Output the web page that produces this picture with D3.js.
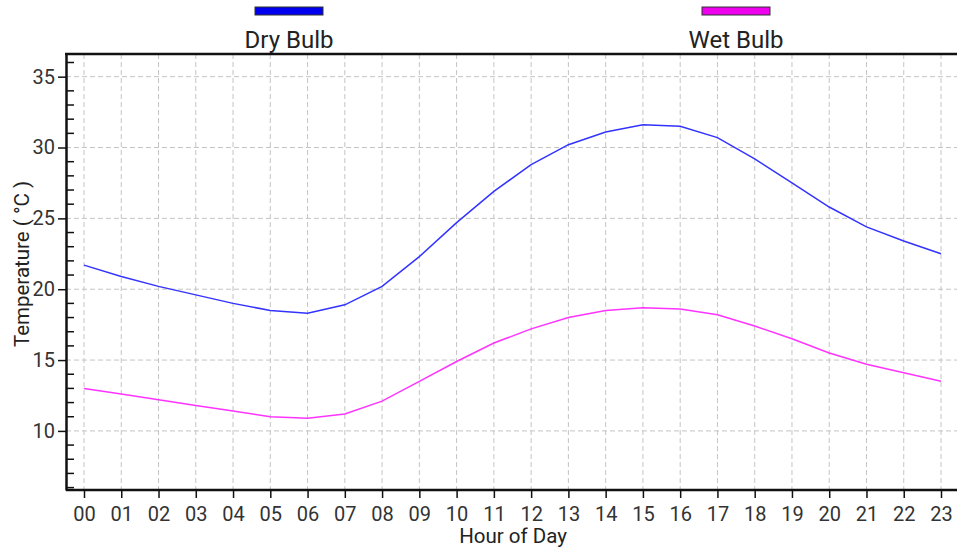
<!DOCTYPE html>
<html><head><meta charset="utf-8">
<script src="https://cdn.jsdelivr.net/npm/d3@7"></script>
<style>body{margin:0;background:#fff;}svg{display:block;font-family:Roboto,"Noto Sans",sans-serif;}</style>
</head><body>
<svg id="c" width="957" height="552"></svg>
<script>
const hours = ["00","01","02","03","04","05","06","07","08","09","10","11","12","13","14","15","16","17","18","19","20","21","22","23"];
const dryBulb = [21.7,20.9,20.2,19.6,19.0,18.5,18.3,18.9,20.2,22.3,24.7,26.9,28.8,30.2,31.1,31.6,31.5,30.7,29.2,27.5,25.8,24.4,23.4,22.5];
const wetBulb = [13.0,12.6,12.2,11.8,11.4,11.0,10.9,11.2,12.1,13.5,14.9,16.2,17.2,18.0,18.5,18.7,18.6,18.2,17.4,16.5,15.5,14.7,14.1,13.5];
const yTicks = [10,15,20,25,30,35];
const seriesNames = ["Dry Bulb","Wet Bulb"];
const lineColors = ["#3333ff","#ff33ff"];
const legendColors = ["#0000ee","#ee00ee"];

const svg = d3.select("#c");
const L = 66, T = 54, R = 960, B = 490;
const x = d3.scalePoint().domain(hours).range([84, 941]);
const y = d3.scaleLinear().domain([5.83, 36.6]).range([B, T]);

// grid
const g = svg.append("g");
g.selectAll(".vg").data(hours).enter().append("line")
 .attr("x1", d=>x(d)).attr("x2", d=>x(d)).attr("y1", T).attr("y2", B)
 .attr("stroke","#c4c4c4").attr("stroke-dasharray","5,3").attr("stroke-width",1);
g.selectAll(".hg").data(yTicks).enter().append("line")
 .attr("x1", L).attr("x2", R).attr("y1", d=>y(d)).attr("y2", d=>y(d))
 .attr("stroke","#c4c4c4").attr("stroke-dasharray","5,3").attr("stroke-width",1);

// lines
const line = d3.line().x((d,i)=>x(hours[i])).y(d=>y(d));
[dryBulb, wetBulb].forEach((s,k)=>{
  svg.append("path").datum(s).attr("d", line).attr("fill","none")
   .attr("stroke", lineColors[k]).attr("stroke-width",1.5);
});

// axes
const minor = d3.range(6, 37).filter(v=>v%5!==0);
svg.append("g").selectAll("line").data(minor).enter().append("line")
 .attr("x1", L).attr("x2", L+8).attr("y1", d=>y(d)).attr("y2", d=>y(d))
 .attr("stroke","#111").attr("stroke-width",1.5);
const ya = svg.append("g").attr("transform",`translate(${L},0)`)
 .call(d3.axisLeft(y).tickValues(yTicks).tickSize(8).tickSizeOuter(0).tickPadding(3));
ya.select(".domain").attr("stroke","#111").attr("stroke-width",2.5);
ya.selectAll(".tick line").attr("stroke","#111").attr("stroke-width",1.5);
ya.selectAll(".tick text").attr("font-size",20).attr("fill","#333").attr("font-family","Roboto");

const xa = svg.append("g").attr("transform",`translate(0,${B})`)
 .call(d3.axisBottom(x).tickSize(8).tickSizeOuter(0).tickPadding(9));
xa.select(".domain").attr("d", `M${L},0H${R}`).attr("stroke","#111").attr("stroke-width",2.5);
xa.selectAll(".tick line").attr("stroke","#111").attr("stroke-width",1.5);
xa.selectAll(".tick text").attr("font-size",20).attr("fill","#333").attr("font-family","Roboto");

// top border
svg.append("line").attr("x1",L-1).attr("x2",R).attr("y1",T).attr("y2",T)
 .attr("stroke","#111").attr("stroke-width",2.5);

// axis titles
svg.append("text").attr("x",513).attr("y",543).attr("text-anchor","middle")
 .attr("font-size",20.5).attr("fill","#222").text("Hour of Day");
svg.append("text").attr("transform","translate(29,264) rotate(-90)").attr("text-anchor","middle")
 .attr("font-size",20.5).attr("fill","#222").text("Temperature ( °C )");

// legend
const legX = [289, 736];
seriesNames.forEach((n,k)=>{
  svg.append("rect").attr("x",legX[k]-34).attr("y",7).attr("width",68).attr("height",8)
   .attr("fill",legendColors[k]).attr("stroke","#333").attr("stroke-width",1);
  svg.append("text").attr("x",legX[k]).attr("y",48).attr("text-anchor","middle")
   .attr("font-size",24).attr("fill","#222").text(n);
});
</script>
</body></html>
